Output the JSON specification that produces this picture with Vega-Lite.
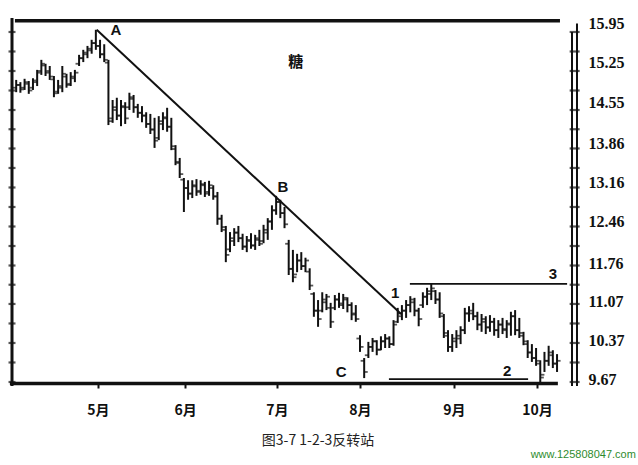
{
  "$schema": "https://vega.github.io/schema/vega-lite/v6.json",
  "autosize": "none",
  "width": 566,
  "height": 364,
  "padding": {"left": 12, "top": 20, "right": 60, "bottom": 81},
  "background": "white",
  "view": {"stroke": null},
  "config": {"font": "Liberation Sans"},
  "datasets": {
    "bars": [
      {"d":1,"h":15.09,"l":14.87,"o":14.95,"c":15.00},
      {"d":2,"h":15.05,"l":14.86,"o":15.00,"c":14.92},
      {"d":3,"h":15.11,"l":14.91,"o":14.95,"c":15.05},
      {"d":4,"h":15.07,"l":14.84,"o":15.02,"c":14.90},
      {"d":5,"h":15.12,"l":14.91,"o":14.95,"c":15.08},
      {"d":6,"h":15.27,"l":14.98,"o":15.05,"c":15.22},
      {"d":7,"h":15.45,"l":15.18,"o":15.25,"c":15.38},
      {"d":8,"h":15.38,"l":15.16,"o":15.35,"c":15.22},
      {"d":9,"h":15.34,"l":15.09,"o":15.25,"c":15.15},
      {"d":10,"h":15.16,"l":14.78,"o":15.10,"c":14.85},
      {"d":11,"h":15.09,"l":14.84,"o":14.88,"c":14.98},
      {"d":12,"h":15.34,"l":14.87,"o":14.95,"c":15.20},
      {"d":13,"h":15.20,"l":14.95,"o":15.15,"c":15.00},
      {"d":14,"h":15.23,"l":14.98,"o":15.02,"c":15.15},
      {"d":15,"h":15.27,"l":15.05,"o":15.12,"c":15.22},
      {"d":16,"h":15.54,"l":15.34,"o":15.38,"c":15.48},
      {"d":17,"h":15.63,"l":15.41,"o":15.48,"c":15.58},
      {"d":18,"h":15.70,"l":15.48,"o":15.55,"c":15.65},
      {"d":19,"h":15.81,"l":15.56,"o":15.62,"c":15.75},
      {"d":20,"h":15.99,"l":15.63,"o":15.75,"c":15.70},
      {"d":21,"h":15.81,"l":15.48,"o":15.70,"c":15.55},
      {"d":22,"h":15.73,"l":15.41,"o":15.55,"c":15.45},
      {"d":23,"h":15.45,"l":14.28,"o":15.40,"c":14.35},
      {"d":24,"h":14.73,"l":14.32,"o":14.40,"c":14.60},
      {"d":25,"h":14.77,"l":14.37,"o":14.55,"c":14.45},
      {"d":26,"h":14.73,"l":14.26,"o":14.45,"c":14.62},
      {"d":27,"h":14.69,"l":14.30,"o":14.60,"c":14.40},
      {"d":28,"h":14.86,"l":14.55,"o":14.60,"c":14.78},
      {"d":29,"h":14.82,"l":14.50,"o":14.75,"c":14.60},
      {"d":30,"h":14.66,"l":14.41,"o":14.60,"c":14.50},
      {"d":31,"h":14.62,"l":14.33,"o":14.50,"c":14.45},
      {"d":32,"h":14.51,"l":14.23,"o":14.45,"c":14.30},
      {"d":33,"h":14.48,"l":14.12,"o":14.30,"c":14.20},
      {"d":34,"h":14.41,"l":13.87,"o":14.20,"c":14.00},
      {"d":35,"h":14.44,"l":14.01,"o":14.05,"c":14.35},
      {"d":36,"h":14.51,"l":14.19,"o":14.30,"c":14.42},
      {"d":37,"h":14.59,"l":14.16,"o":14.40,"c":14.25},
      {"d":38,"h":14.41,"l":13.83,"o":14.25,"c":13.90},
      {"d":39,"h":13.92,"l":13.56,"o":13.85,"c":13.62},
      {"d":40,"h":13.69,"l":13.33,"o":13.60,"c":13.40},
      {"d":41,"h":13.33,"l":12.72,"o":13.30,"c":13.15},
      {"d":42,"h":13.29,"l":12.94,"o":13.15,"c":13.05},
      {"d":43,"h":13.29,"l":12.97,"o":13.05,"c":13.20},
      {"d":44,"h":13.31,"l":13.01,"o":13.18,"c":13.08},
      {"d":45,"h":13.29,"l":13.03,"o":13.10,"c":13.22},
      {"d":46,"h":13.26,"l":12.99,"o":13.20,"c":13.05},
      {"d":47,"h":13.28,"l":13.01,"o":13.08,"c":13.20},
      {"d":48,"h":13.20,"l":12.94,"o":13.15,"c":13.00},
      {"d":49,"h":13.08,"l":12.49,"o":13.00,"c":12.60},
      {"d":50,"h":12.67,"l":12.36,"o":12.60,"c":12.45},
      {"d":51,"h":12.47,"l":11.82,"o":12.40,"c":11.95},
      {"d":52,"h":12.36,"l":12.00,"o":12.05,"c":12.25},
      {"d":53,"h":12.43,"l":12.11,"o":12.20,"c":12.35},
      {"d":54,"h":12.47,"l":12.18,"o":12.35,"c":12.25},
      {"d":55,"h":12.33,"l":12.04,"o":12.25,"c":12.10},
      {"d":56,"h":12.29,"l":12.00,"o":12.10,"c":12.22},
      {"d":57,"h":12.34,"l":12.06,"o":12.20,"c":12.12},
      {"d":58,"h":12.31,"l":12.04,"o":12.12,"c":12.25},
      {"d":59,"h":12.40,"l":12.11,"o":12.22,"c":12.15},
      {"d":60,"h":12.49,"l":12.16,"o":12.20,"c":12.40},
      {"d":61,"h":12.61,"l":12.22,"o":12.35,"c":12.55},
      {"d":62,"h":12.84,"l":12.40,"o":12.55,"c":12.75},
      {"d":63,"h":13.01,"l":12.67,"o":12.75,"c":12.90},
      {"d":64,"h":12.94,"l":12.61,"o":12.90,"c":12.70},
      {"d":65,"h":12.81,"l":12.43,"o":12.70,"c":12.50},
      {"d":66,"h":12.22,"l":11.59,"o":12.15,"c":11.70},
      {"d":67,"h":12.04,"l":11.46,"o":11.70,"c":11.55},
      {"d":68,"h":11.97,"l":11.64,"o":11.60,"c":11.85},
      {"d":69,"h":12.00,"l":11.68,"o":11.85,"c":11.75},
      {"d":70,"h":11.90,"l":11.64,"o":11.75,"c":11.85},
      {"d":71,"h":11.71,"l":11.32,"o":11.65,"c":11.40},
      {"d":72,"h":11.28,"l":10.84,"o":11.25,"c":10.95},
      {"d":73,"h":11.14,"l":10.66,"o":10.95,"c":10.80},
      {"d":74,"h":11.28,"l":10.92,"o":10.95,"c":11.15},
      {"d":75,"h":11.25,"l":10.96,"o":11.10,"c":11.20},
      {"d":76,"h":11.09,"l":10.64,"o":11.00,"c":10.75},
      {"d":77,"h":11.23,"l":10.96,"o":11.00,"c":11.15},
      {"d":78,"h":11.27,"l":11.00,"o":11.15,"c":11.08},
      {"d":79,"h":11.25,"l":10.98,"o":11.05,"c":11.18},
      {"d":80,"h":11.19,"l":10.92,"o":11.15,"c":11.05},
      {"d":81,"h":11.10,"l":10.78,"o":11.05,"c":10.88},
      {"d":82,"h":11.05,"l":10.75,"o":10.90,"c":10.80},
      {"d":83,"h":10.51,"l":10.21,"o":10.45,"c":10.30},
      {"d":84,"h":10.10,"l":9.74,"o":10.05,"c":9.85},
      {"d":85,"h":10.39,"l":10.10,"o":10.15,"c":10.30},
      {"d":86,"h":10.46,"l":10.21,"o":10.30,"c":10.40},
      {"d":87,"h":10.42,"l":10.15,"o":10.40,"c":10.25},
      {"d":88,"h":10.49,"l":10.24,"o":10.25,"c":10.40},
      {"d":89,"h":10.53,"l":10.28,"o":10.40,"c":10.45},
      {"d":90,"h":10.49,"l":10.28,"o":10.45,"c":10.35},
      {"d":91,"h":10.78,"l":10.32,"o":10.35,"c":10.70},
      {"d":92,"h":11.00,"l":10.73,"o":10.75,"c":10.90},
      {"d":93,"h":11.05,"l":10.78,"o":10.85,"c":10.95},
      {"d":94,"h":11.14,"l":10.82,"o":10.95,"c":11.05},
      {"d":95,"h":11.21,"l":10.92,"o":11.05,"c":11.15},
      {"d":96,"h":11.18,"l":10.85,"o":11.10,"c":10.95},
      {"d":97,"h":11.00,"l":10.67,"o":10.95,"c":10.80},
      {"d":98,"h":11.28,"l":11.00,"o":11.05,"c":11.20},
      {"d":99,"h":11.36,"l":11.05,"o":11.20,"c":11.30},
      {"d":100,"h":11.43,"l":11.14,"o":11.25,"c":11.35},
      {"d":101,"h":11.32,"l":11.07,"o":11.30,"c":11.15},
      {"d":102,"h":11.28,"l":10.82,"o":11.15,"c":10.90},
      {"d":103,"h":10.89,"l":10.46,"o":10.85,"c":10.55},
      {"d":104,"h":10.60,"l":10.21,"o":10.50,"c":10.30},
      {"d":105,"h":10.53,"l":10.21,"o":10.30,"c":10.45},
      {"d":106,"h":10.60,"l":10.28,"o":10.40,"c":10.50},
      {"d":107,"h":10.67,"l":10.35,"o":10.45,"c":10.60},
      {"d":108,"h":11.00,"l":10.53,"o":10.60,"c":10.90},
      {"d":109,"h":11.03,"l":10.75,"o":10.90,"c":10.95},
      {"d":110,"h":11.09,"l":10.78,"o":10.90,"c":10.85},
      {"d":111,"h":10.93,"l":10.60,"o":10.85,"c":10.70},
      {"d":112,"h":10.89,"l":10.57,"o":10.70,"c":10.80},
      {"d":113,"h":10.85,"l":10.53,"o":10.75,"c":10.65},
      {"d":114,"h":10.87,"l":10.57,"o":10.65,"c":10.75},
      {"d":115,"h":10.82,"l":10.50,"o":10.75,"c":10.60},
      {"d":116,"h":10.78,"l":10.46,"o":10.60,"c":10.70},
      {"d":117,"h":10.82,"l":10.53,"o":10.70,"c":10.62},
      {"d":118,"h":10.78,"l":10.46,"o":10.60,"c":10.72},
      {"d":119,"h":10.93,"l":10.50,"o":10.70,"c":10.85},
      {"d":120,"h":10.96,"l":10.51,"o":10.85,"c":10.60},
      {"d":121,"h":10.82,"l":10.46,"o":10.60,"c":10.55},
      {"d":122,"h":10.57,"l":10.33,"o":10.50,"c":10.40},
      {"d":123,"h":10.42,"l":10.10,"o":10.35,"c":10.20},
      {"d":124,"h":10.35,"l":10.03,"o":10.20,"c":10.10},
      {"d":125,"h":10.28,"l":9.96,"o":10.10,"c":10.05},
      {"d":126,"h":10.06,"l":9.65,"o":10.00,"c":9.75},
      {"d":127,"h":10.21,"l":9.85,"o":9.80,"c":10.05},
      {"d":128,"h":10.32,"l":9.96,"o":10.05,"c":10.20},
      {"d":129,"h":10.24,"l":9.92,"o":10.15,"c":10.00},
      {"d":130,"h":10.17,"l":9.85,"o":10.00,"c":10.05}
    ],
    "axisTicks": [
      {"p":15.95},{"p":15.6},{"p":15.25},{"p":14.9},{"p":14.55},{"p":14.205},{"p":13.86},{"p":13.51},{"p":13.16},{"p":12.81},
      {"p":12.46},{"p":12.11},{"p":11.76},{"p":11.415},{"p":11.07},{"p":10.72},{"p":10.37},{"p":10.02},{"p":9.67}
    ],
    "trend": [{"d":20.2,"p":15.99},{"d":92.8,"p":10.89}],
    "frame": [
      {"d":0.7,"d2":130.7,"p":16.15},
      {"d":-0.5,"d2":130.2,"p":9.645}
    ],
    "levels": [
      {"d":94.9,"d2":132.4,"p":11.43},
      {"d":89.9,"d2":123.1,"p":9.72}
    ],
    "ann": [
      {"d":24.8,"p":15.99,"t":"A"},
      {"d":64.6,"p":13.17,"t":"B"},
      {"d":78.5,"p":9.85,"t":"C"},
      {"d":91.4,"p":11.27,"t":"1"},
      {"d":118.1,"p":9.87,"t":"2"},
      {"d":129.0,"p":11.61,"t":"3"}
    ]
  },
  "layer": [
    {
      "data": {"name": "bars"},
      "mark": {"type": "rule", "color": "#111", "strokeWidth": 2},
      "encoding": {
        "x": {"field": "d", "type": "quantitative",
              "scale": {"domain": [0, 135], "nice": false, "zero": false},
              "axis": {"title": null, "orient": "bottom", "domain": false, "grid": false,
                       "values": [20.5, 41.3, 63.2, 83.0, 105.4, 125.2],
                       "labelExpr": "datum.value < 30 ? '5月' : datum.value < 50 ? '6月' : datum.value < 70 ? '7月' : datum.value < 90 ? '8月' : datum.value < 115 ? '9月' : '10月'",
                       "tickSize": 4, "tickWidth": 2, "tickColor": "#111",
                       "labelFont": "Noto Sans CJK SC", "labelFontSize": 14, "labelFontWeight": "bold",
                       "labelColor": "#111", "labelPadding": 15}},
        "y": {"field": "l", "type": "quantitative",
              "scale": {"domain": [9.634, 16.165], "nice": false, "zero": false},
              "axis": {"title": null, "orient": "right", "domain": false, "ticks": false, "grid": false,
                       "values": [15.95, 15.25, 14.55, 13.86, 13.16, 12.46, 11.76, 11.07, 10.37, 9.67],
                       "format": ".2f",
                       "labelFont": "Liberation Serif", "labelFontSize": 16, "labelFontWeight": "bold",
                       "labelColor": "#111", "labelPadding": 10,
                       "labelOffset": {"condition": [{"test": "datum.value > 14", "value": -8}, {"test": "datum.value > 12", "value": -5}], "value": -2}}},
        "y2": {"field": "h"}
      }
    },
    {
      "data": {"name": "bars"},
      "mark": {"type": "tick", "orient": "horizontal", "color": "#111", "size": 3.5, "thickness": 1.8, "xOffset": -1.8},
      "encoding": {
        "x": {"field": "d", "type": "quantitative"},
        "y": {"field": "o", "type": "quantitative"}
      }
    },
    {
      "data": {"name": "bars"},
      "mark": {"type": "tick", "orient": "horizontal", "color": "#111", "size": 3.5, "thickness": 1.8, "xOffset": 1.8},
      "encoding": {
        "x": {"field": "d", "type": "quantitative"},
        "y": {"field": "c", "type": "quantitative"}
      }
    },
    {
      "data": {"name": "trend"},
      "mark": {"type": "line", "color": "#111", "strokeWidth": 2},
      "encoding": {
        "x": {"field": "d", "type": "quantitative"},
        "y": {"field": "p", "type": "quantitative"}
      }
    },
    {
      "data": {"name": "frame"},
      "mark": {"type": "rule", "color": "#111", "strokeWidth": 3.5},
      "encoding": {
        "x": {"field": "d", "type": "quantitative"},
        "x2": {"field": "d2"},
        "y": {"field": "p", "type": "quantitative"}
      }
    },
    {
      "data": {"name": "levels"},
      "mark": {"type": "rule", "color": "#111", "strokeWidth": 1.8},
      "encoding": {
        "x": {"field": "d", "type": "quantitative"},
        "x2": {"field": "d2"},
        "y": {"field": "p", "type": "quantitative"}
      }
    },
    {
      "data": {"values": [{"a": 0}]},
      "mark": {"type": "rule", "color": "#111", "strokeWidth": 3},
      "encoding": {
        "x": {"datum": 0, "type": "quantitative"},
        "y": {"datum": 9.6, "type": "quantitative"},
        "y2": {"datum": 16.2}
      }
    },
    {
      "data": {"values": [{"a": 0}]},
      "mark": {"type": "rule", "color": "#111", "strokeWidth": 2},
      "encoding": {
        "x": {"datum": 134.76, "type": "quantitative"},
        "y": {"datum": 9.6, "type": "quantitative"},
        "y2": {"datum": 16.1}
      }
    },
    {
      "data": {"values": [{"a": 0}]},
      "mark": {"type": "rule", "color": "#111", "strokeWidth": 2},
      "encoding": {
        "x": {"datum": 133.57, "type": "quantitative"},
        "y": {"datum": 9.6, "type": "quantitative"},
        "y2": {"datum": 15.95}
      }
    },
    {
      "data": {"name": "axisTicks"},
      "mark": {"type": "tick", "orient": "horizontal", "color": "#111", "size": 7, "thickness": 2.2},
      "encoding": {
        "x": {"datum": 0, "type": "quantitative"},
        "y": {"field": "p", "type": "quantitative"}
      }
    },
    {
      "data": {"name": "axisTicks"},
      "mark": {"type": "tick", "orient": "horizontal", "color": "#111", "size": 10, "thickness": 2.2},
      "encoding": {
        "x": {"datum": 134.2, "type": "quantitative"},
        "y": {"field": "p", "type": "quantitative"}
      }
    },
    {
      "data": {"name": "ann"},
      "mark": {"type": "text", "font": "Liberation Sans", "fontSize": 15, "fontWeight": "bold", "color": "#111", "align": "center", "baseline": "middle"},
      "encoding": {
        "x": {"field": "d", "type": "quantitative"},
        "y": {"field": "p", "type": "quantitative"},
        "text": {"field": "t"}
      }
    },
    {
      "data": {"values": [{"d": 67.7, "p": 15.41, "t": "糖"}]},
      "mark": {"type": "text", "font": "Noto Sans CJK SC", "fontSize": 15, "fontWeight": "bold", "color": "#111", "align": "center", "baseline": "middle"},
      "encoding": {
        "x": {"field": "d", "type": "quantitative"},
        "y": {"field": "p", "type": "quantitative"},
        "text": {"field": "t"}
      }
    },
    {
      "data": {"values": [{"d": 73.0, "p": 8.61, "t": "图3-7 1-2-3反转站"}]},
      "mark": {"type": "text", "font": "Noto Sans CJK SC", "fontSize": 14, "color": "#222", "align": "center", "baseline": "middle"},
      "encoding": {
        "x": {"field": "d", "type": "quantitative"},
        "y": {"field": "p", "type": "quantitative"},
        "text": {"field": "t"}
      }
    },
    {
      "data": {"values": [{"d": 148.8, "p": 8.36, "t": "www.125808047.com"}]},
      "mark": {"type": "text", "font": "Liberation Sans", "fontSize": 11, "color": "#2e8b2e", "align": "right", "baseline": "middle"},
      "encoding": {
        "x": {"field": "d", "type": "quantitative"},
        "y": {"field": "p", "type": "quantitative"},
        "text": {"field": "t"}
      }
    }
  ]
}
